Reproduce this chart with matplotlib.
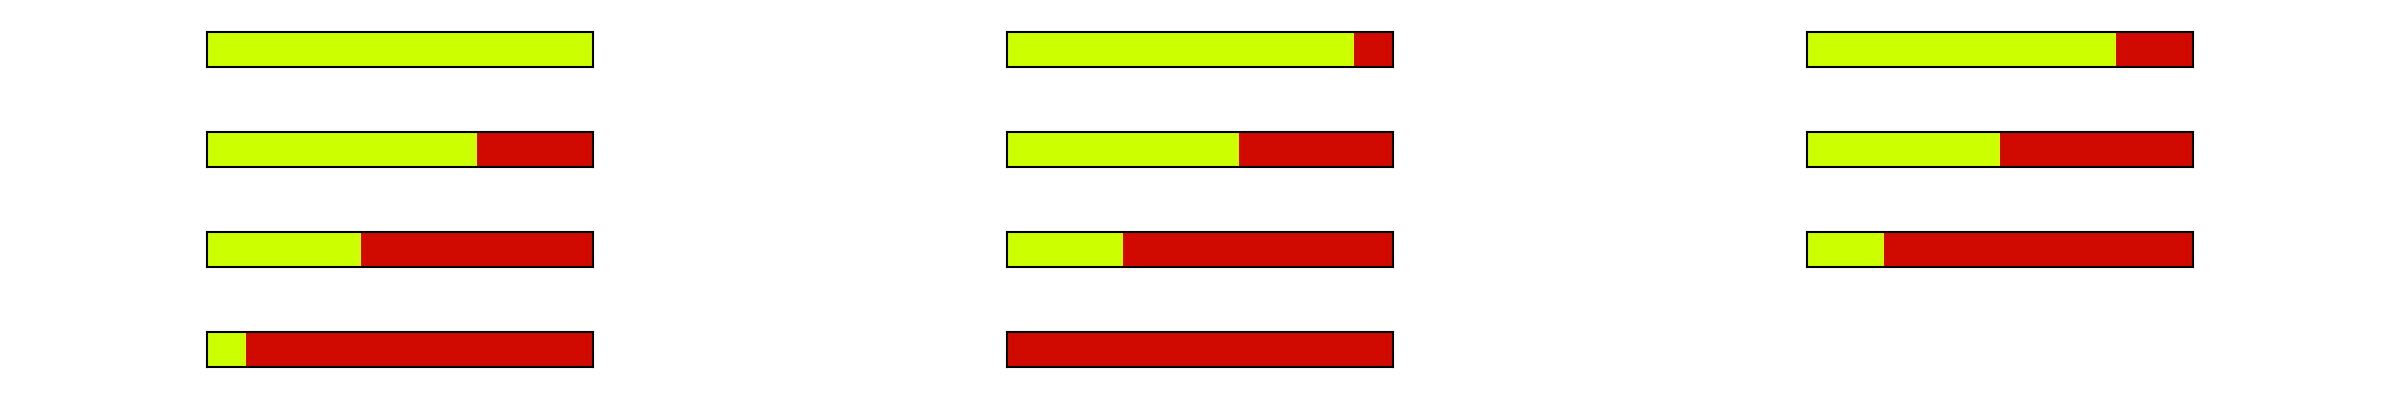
import matplotlib
matplotlib.use("Agg")
import matplotlib.pyplot as plt

# fill fraction of each progress bar, in reading order (row by row)
progress = [1.0, 0.9, 0.8, 0.7, 0.6, 0.5, 0.4, 0.3, 0.2, 0.1, 0.0]

DONE_COLOR = "#ccff00"
LEFT_COLOR = "#d10a00"

N_ROWS, N_COLS = 4, 3


def draw_bar(ax, value):
    ax.barh(0.5, value, height=1.0, left=0, color=DONE_COLOR, edgecolor="none")
    ax.barh(0.5, 1 - value, height=1.0, left=value, color=LEFT_COLOR, edgecolor="none")
    ax.set_xlim(0, 1)
    ax.set_ylim(0, 1)
    ax.set_xticks([])
    ax.set_yticks([])
    for spine in ax.spines.values():
        spine.set_edgecolor("black")
        spine.set_linewidth(1.5)


def main():
    fig, axes = plt.subplots(
        N_ROWS, N_COLS, figsize=(24, 4), dpi=100,
        gridspec_kw=dict(left=0.08625, right=0.91375, top=0.92, bottom=0.0825,
                         wspace=1.0725, hspace=1.857),
    )
    flat = axes.ravel()
    for i, ax in enumerate(flat):
        if i < len(progress):
            draw_bar(ax, progress[i])
        else:
            ax.set_visible(False)

    fig.savefig("out.png", dpi=100, facecolor="white")


if __name__ == "__main__":
    main()
